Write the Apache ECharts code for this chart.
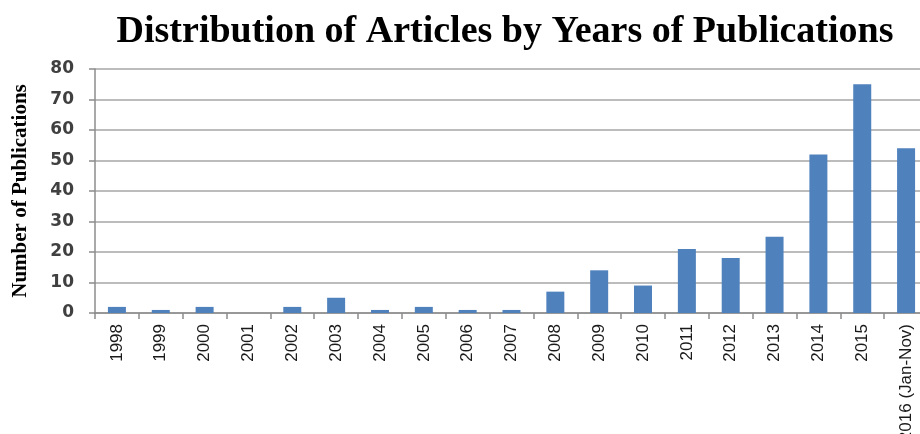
<!DOCTYPE html>
<html>
<head>
<meta charset="utf-8">
<script src="https://cdn.jsdelivr.net/npm/echarts@6/dist/echarts.min.js"></script>
<style>
    html, body {margin: 0; padding: 0; background: #fff;}
    #chart {width: 920px; height: 434px;}
</style>
</head>
<body>
<div id="chart"></div>
<script>
const years = ['1998', '1999', '2000', '2001', '2002', '2003', '2004', '2005', '2006', '2007',
    '2008', '2009', '2010', '2011', '2012', '2013', '2014', '2015', '2016 (Jan-Nov)'];
const publications = [2, 1, 2, 0, 2, 5, 1, 2, 1, 1, 7, 14, 9, 21, 18, 25, 52, 75, 54];
const yTicks = [0, 10, 20, 30, 40, 50, 60, 70, 80];

const myChart = echarts.init(document.getElementById('chart'));

const option = {
    animation: false,
    title: {
        text: 'Distribution of Articles by Years of Publications',
        left: 500,
        textAlign: 'center',
        top: 8,
        textStyle: {
            fontFamily: 'Liberation Serif',
            fontWeight: 'bold',
            fontSize: 38,
            color: '#000'
        }
    },
    grid: {left: 95, right: -8, top: 69, bottom: 121, outerBoundsMode: 'none', containLabel: false},
    xAxis: {
        type: 'category',
        data: years,
        axisLine: {lineStyle: {color: '#8c8c8c', width: 1.5}},
        axisTick: {show: true, length: 6, lineStyle: {color: '#8c8c8c', width: 1.5}},
        axisLabel: {
            rotate: 90,
            interval: 0,
            margin: 11,
            fontFamily: 'Liberation Sans',
            fontSize: 17,
            color: '#1a1a1a'
        }
    },
    yAxis: {
        type: 'value',
        min: yTicks[0],
        max: yTicks[yTicks.length - 1],
        interval: 10,
        name: 'Number of Publications',
        nameLocation: 'middle',
        nameGap: 64,
        nameTextStyle: {
            fontFamily: 'Liberation Serif',
            fontWeight: 'bold',
            fontSize: 21,
            color: '#000'
        },
        axisLine: {show: true, lineStyle: {color: '#8c8c8c', width: 1.5}},
        axisTick: {show: true, length: 6, lineStyle: {color: '#8c8c8c', width: 1.5}},
        axisLabel: {
            margin: 21,
            fontFamily: 'DejaVu Sans',
            fontWeight: 'bold',
            fontSize: 17,
            color: '#404040'
        },
        splitLine: {lineStyle: {color: '#a6a6a6', width: 1.5}}
    },
    series: [{
        type: 'bar',
        data: publications,
        barWidth: 18,
        itemStyle: {color: '#4f81bd'}
    }]
};

myChart.setOption(option);
</script>
</body>
</html>
